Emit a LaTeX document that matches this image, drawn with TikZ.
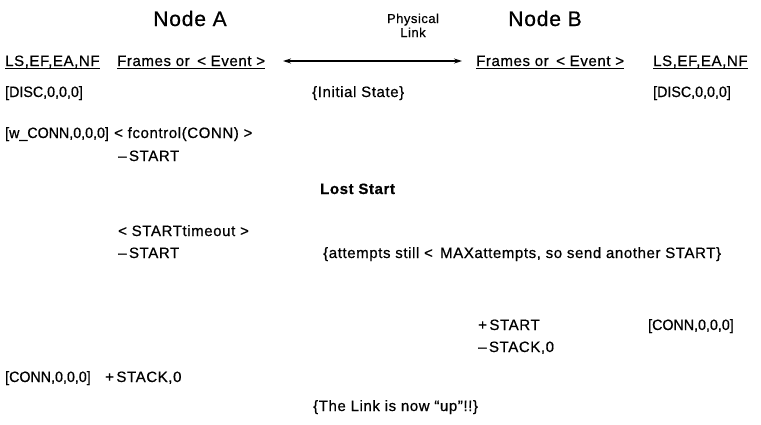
\documentclass[tikz,border=0pt]{standalone}
\usepackage{fontspec}
\setmainfont{Liberation Sans}[LetterSpace=4,FakeBold=0.6]
\newfontfamily\statefont{Liberation Sans}[FakeBold=0.6,FakeStretch=0.95]
\usetikzlibrary{arrows.meta}
\begin{document}
\begin{tikzpicture}[x=1pt,y=-1pt,
  txt/.style={anchor=base west,inner sep=0pt,font=\fontsize{15}{18}\selectfont},
  stt/.style={anchor=base west,inner sep=0pt,font=\statefont\fontsize{15}{18}\selectfont},
  ctr/.style={anchor=base,inner sep=0pt,font=\fontsize{13}{15}\selectfont},
  ttl/.style={anchor=base,inner sep=0pt,font=\fontsize{21}{24}\selectfont},
  uline/.style={line width=0.8pt},
  link/.style={line width=1.1pt,{Stealth[length=8pt,width=5pt]}-{Stealth[length=8pt,width=5pt]}}]
\useasboundingbox[fill=white] (0,0) rectangle (761,424);
% titles
\node[ttl] (titleA) at (190,26) {Node A};
\node[ttl] (titleB) at (545,26) {Node B};
\node[ctr] (phys) at (413,23) {Physical};
\node[ctr] (plink) at (413,37) {Link};
% header row
\node[txt] (lsA) at (5,66) {LS,EF,EA,NF};
\node[txt] (frA) at (117,66) {Frames or\enspace< Event >};
\node[txt] (frB) at (476,66) {Frames or\enspace< Event >};
\node[txt] (lsB) at (653,66) {LS,EF,EA,NF};
\foreach \n in {lsA,frA,frB,lsB}
  \draw[uline] ([yshift=-2.5pt]\n.base west) -- ([yshift=-2.5pt]\n.base east);
\coordinate (la) at (283,61);
\coordinate (lb) at (462,61);
\draw[link] (la) -- (lb);
% states
\node[stt] (discA) at (5,97) {[DISC,0,0,0]};
\node[txt] (init) at (312,97) {\{Initial State\}};
\node[stt] (discB) at (653,97) {[DISC,0,0,0]};
\node[stt] (wconn) at (5,138) {[w\_CONN,0,0,0]};
\node[txt] (fctl) at (114,138) {< fcontrol(CONN) >};
\node[txt] (st1) at (118,161) {–\,START};
\node[txt,font=\fontsize{15}{18}\selectfont\bfseries] (lost) at (320,194) {Lost Start};
\node[txt] (sto) at (118,236) {< STARTtimeout >};
\node[txt] (st2) at (118,258) {–\,START};
\node[txt] (att) at (323,258) {\{attempts still <\, MAXattempts, so send another START\}};
\node[txt] (pst) at (478,330) {+\,START};
\node[stt] (connB) at (648,330) {[CONN,0,0,0]};
\node[txt] (sack) at (478,352) {–\,STACK,0};
\node[stt] (connA) at (5,382) {[CONN,0,0,0]};
\node[txt] (pstack) at (105,382) {+\,STACK,0};
\node[txt] (up) at (313,411) {\{The Link is now “up”!!\}};
\end{tikzpicture}
\end{document}
